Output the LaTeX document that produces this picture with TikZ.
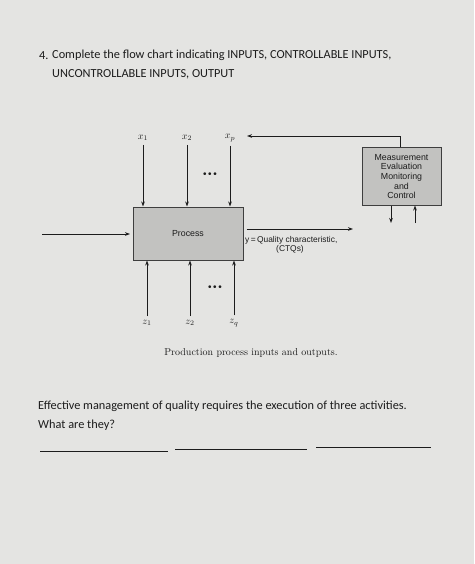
\documentclass[tikz,border=0pt]{standalone}
\usepackage{fontspec}
\newfontfamily\calibri{Carlito}
\newfontfamily\helv{Liberation Sans}
\usetikzlibrary{arrows.meta,positioning}

\definecolor{paper}{HTML}{E4E4E2}
\definecolor{boxgray}{HTML}{C2C2C0}
\definecolor{ink}{HTML}{1C1C1C}

\tikzset{
  procbox/.style={draw=ink!85, fill=boxgray, line width=1pt, inner sep=0pt, text=ink},
  flow/.style={-{Stealth[length=5pt,width=3.6pt]}, ink, line width=0.9pt},
  sheettext/.style={font=\calibri\fontsize{12.3}{15}\selectfont, text=ink, anchor=west, inner sep=0pt},
  varlabel/.style={font=\fontsize{10}{11}\selectfont, text=ink, inner sep=0pt, outer sep=4pt},
  boxtext/.style={font=\helv\fontsize{8.8}{9.6}\selectfont, align=center},
  dotrow/.style={font=\helv\fontsize{10}{11}\selectfont, text=ink, inner sep=0pt},
  blank/.style={ink, line width=0.7pt}
}

\begin{document}
\begin{tikzpicture}[x=1pt,y=-1pt]

 \fill[paper] (0,0) rectangle (474,564);
 \useasboundingbox (0,0) rectangle (474,564);

 % question
 \node[sheettext] (qnum) at (39,56) {4.};
 \node[sheettext] (qline1) at (52,55) {Complete the flow chart indicating INPUTS, CONTROLLABLE INPUTS,};
 \node[sheettext] (qline2) at (52,74) {UNCONTROLLABLE INPUTS, OUTPUT};

 % boxes
 \node[procbox, boxtext, minimum width=110pt, minimum height=53pt] (process) at (188,233.5) {Process};
 \node[procbox, boxtext, minimum width=79pt, minimum height=57pt] (meas) at (401.5,176.5)
   {Measurement\\Evaluation\\Monitoring\\and\\Control};

 % controllable inputs
 \node[varlabel] (x1) at (143,138) {$x_1$};
 \node[varlabel] (x2) at (187,138) {$x_2$};
 \node[varlabel] (xp) at (230,138) {$x_p$};
 \draw[flow] (x1) -- (x1 |- process.north);
 \draw[flow] (x2) -- (x2 |- process.north);
 \draw[flow] (xp) -- (xp |- process.north);
 \node[dotrow] (topdots) at (210,175) {\textbullet\,\textbullet\,\textbullet};

 % uncontrollable inputs
 \node[varlabel] (z1) at (147,323) {$z_1$};
 \node[varlabel] (z2) at (190,323) {$z_2$};
 \node[varlabel] (zq) at (234,323) {$z_q$};
 \draw[flow] (z1) -- (z1 |- process.south);
 \draw[flow] (z2) -- (z2 |- process.south);
 \draw[flow] (zq) -- (zq |- process.south);
 \node[dotrow] (botdots) at (215,288) {\textbullet\,\textbullet\,\textbullet};

 % input and output
 \coordinate (inleft) at (42,234);
 \coordinate (outright) at (353,229);
 \draw[flow, shorten >=2.5pt] (inleft) -- (process.west |- inleft);
 \draw[flow, shorten <=3pt] (process.east |- outright) -- (outright);
 \node[font=\helv\fontsize{8.4}{9}\selectfont, text=ink, anchor=west, inner sep=0pt] (ylabel) at (245,240) {y\,=\,Quality characteristic,};
 \node[font=\helv\fontsize{8.4}{9}\selectfont, text=ink, inner sep=0pt] (ctq) at (290,249.5) {(CTQs)};

 % feedback
 \coordinate (fbend) at (247,136);
 \coordinate (mdown) at (391,223);
 \coordinate (mup) at (415,223);
 \draw[flow] ([xshift=-1.5pt]meas.north) |- (fbend);
 \draw[flow] (meas.south -| mdown) -- (mdown);
 \draw[flow] (mup) -- (meas.south -| mup);

 \node[text=ink, font=\fontsize{10}{11}\selectfont] (caption) at (251,353) {Production process inputs and outputs.};

 % second question
 \node[sheettext] (qline3) at (38,406) {Effective management of quality requires the execution of three activities.};
 \node[sheettext] (qline4) at (38,425) {What are they?};
 \draw[blank] (40,451) -- (168,451);
 \draw[blank] (175,449) -- (307,449);
 \draw[blank] (316,447) -- (431,447);

\end{tikzpicture}
\end{document}
